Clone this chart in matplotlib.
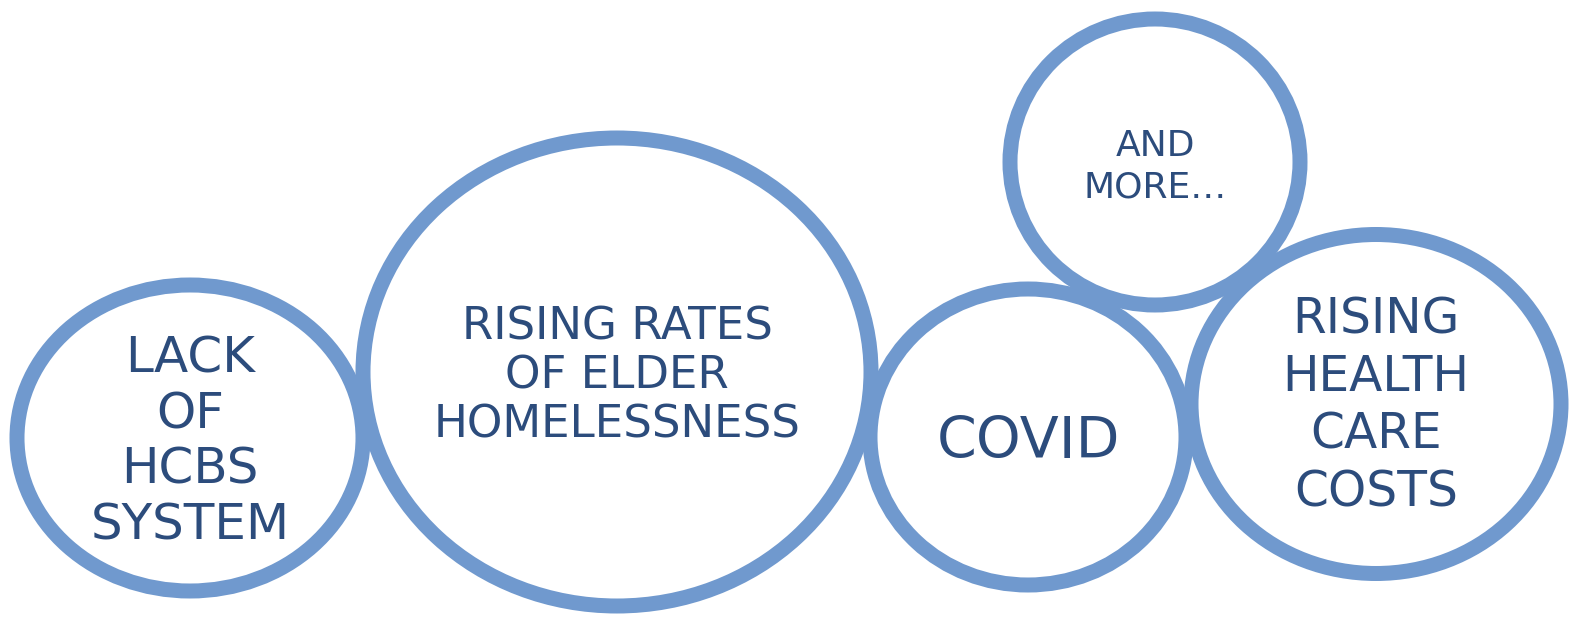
import matplotlib.pyplot as plt
from matplotlib.patches import Ellipse

# Blasen: Text, Mittelpunkt (px), Breite/Hoehe (px, Linienmitte), Schriftgroesse
labels = ["LACK\nOF\nHCBS\nSYSTEM",
          "RISING RATES\nOF ELDER\nHOMELESSNESS",
          "COVID",
          "AND\nMORE…",
          "RISING\nHEALTH\nCARE\nCOSTS"]
centers_x = [190, 617, 1028, 1155, 1376]
centers_y = [438, 372, 437, 162, 404]
widths = [346, 508, 316, 290, 370]
heights = [306, 468, 296, 286, 339]
text_y = [442, 376, 443, 167, 406]
font_sizes = [36, 32.5, 41, 26, 35]
line_spacings = [1.21, 1.18, 1.0, 1.27, 1.25]

edge_color = '#7099CE'
text_color = '#2C4C7C'

fig = plt.figure(figsize=(15.74, 6.17), dpi=100)
ax = fig.add_axes([0, 0, 1, 1])
ax.set_xlim(0, 1574)
ax.set_ylim(617, 0)
ax.axis('off')

for lab, cx, cy, w, h, ty, fs, ls in zip(labels, centers_x, centers_y, widths, heights,
                                         text_y, font_sizes, line_spacings):
    ax.add_patch(Ellipse((cx, cy), w, h, fill=False, edgecolor=edge_color, linewidth=10.8))
    ax.text(cx, ty, lab, ha='center', va='center', fontsize=fs, color=text_color,
            linespacing=ls, family='DejaVu Sans')

fig.savefig('out.png', dpi=100)
